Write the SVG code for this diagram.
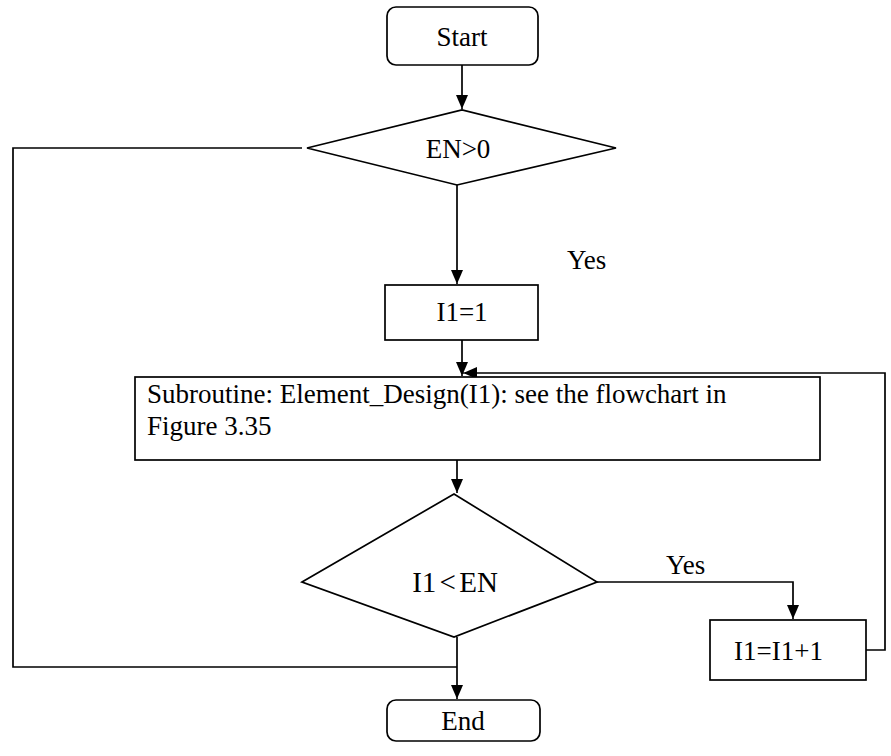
<svg xmlns="http://www.w3.org/2000/svg" width="891" height="756" viewBox="0 0 891 756">
<defs>
<marker id="ah" viewBox="0 0 12 14" refX="14" refY="6" markerWidth="12" markerHeight="14" markerUnits="userSpaceOnUse" orient="auto">
<path d="M0,0 L14,6 L0,12 Z" fill="#000"/>
</marker>
<style>
.shape{fill:#fff;stroke:#000;stroke-width:1.7}
.line{fill:none;stroke:#000;stroke-width:1.7}
text{font-family:"Liberation Serif","Times New Roman",serif;font-size:27px;fill:#000}
.c{text-anchor:middle;dominant-baseline:central}
.sub{font-size:27px}
</style>
</defs>
<rect width="891" height="756" fill="#fff"/>
<g id="connectors">
<path class="line" d="M462,65 V109" marker-end="url(#ah)"/>
<path class="line" d="M302,148 H13 V667 H457"/>
<path class="line" d="M457,185 V284" marker-end="url(#ah)"/>
<path class="line" d="M462,340 V376" marker-end="url(#ah)"/>
<path class="line" d="M866,650 H885 V373 H463" marker-end="url(#ah)"/>
<path class="line" d="M457,460 V493" marker-end="url(#ah)"/>
<path class="line" d="M597,582 H793 V619" marker-end="url(#ah)"/>
<path class="line" d="M457,637 V699" marker-end="url(#ah)"/>
<text x="567" y="269">Yes</text>
<text x="666" y="574">Yes</text>
</g>
<g id="start">
<rect class="shape" x="387" y="7" width="151" height="58" rx="9"/>
<text class="c" x="462" y="37">Start</text>
</g>
<g id="en_gt_0">
<polygon class="shape" points="307,148 462,110 616,148 457,185"/>
<text class="c" x="458" y="149">EN&gt;0</text>
</g>
<g id="i1_eq_1">
<rect class="shape" x="385" y="285" width="153" height="55"/>
<text class="c" x="462" y="312">I1=1</text>
</g>
<g id="subroutine">
<rect class="shape" x="135" y="377" width="685" height="83"/>
<text class="sub" x="147" y="403">Subroutine: Element_Design(I1): see the flowchart in</text>
<text class="sub" x="147" y="435">Figure 3.35</text>
</g>
<g id="i1_lt_en">
<polygon class="shape" points="302,582 454,494 597,582 454,637"/>
<text class="c" x="455" y="582" style="font-size:29px;word-spacing:-4px">I1 &lt; EN</text>
</g>
<g id="increment">
<rect class="shape" x="710" y="620" width="156" height="60"/>
<text x="734" y="660">I1=I1+1</text>
</g>
<g id="end">
<rect class="shape" x="387" y="700" width="153" height="41" rx="9"/>
<text class="c" x="463" y="721">End</text>
</g>
</svg>
